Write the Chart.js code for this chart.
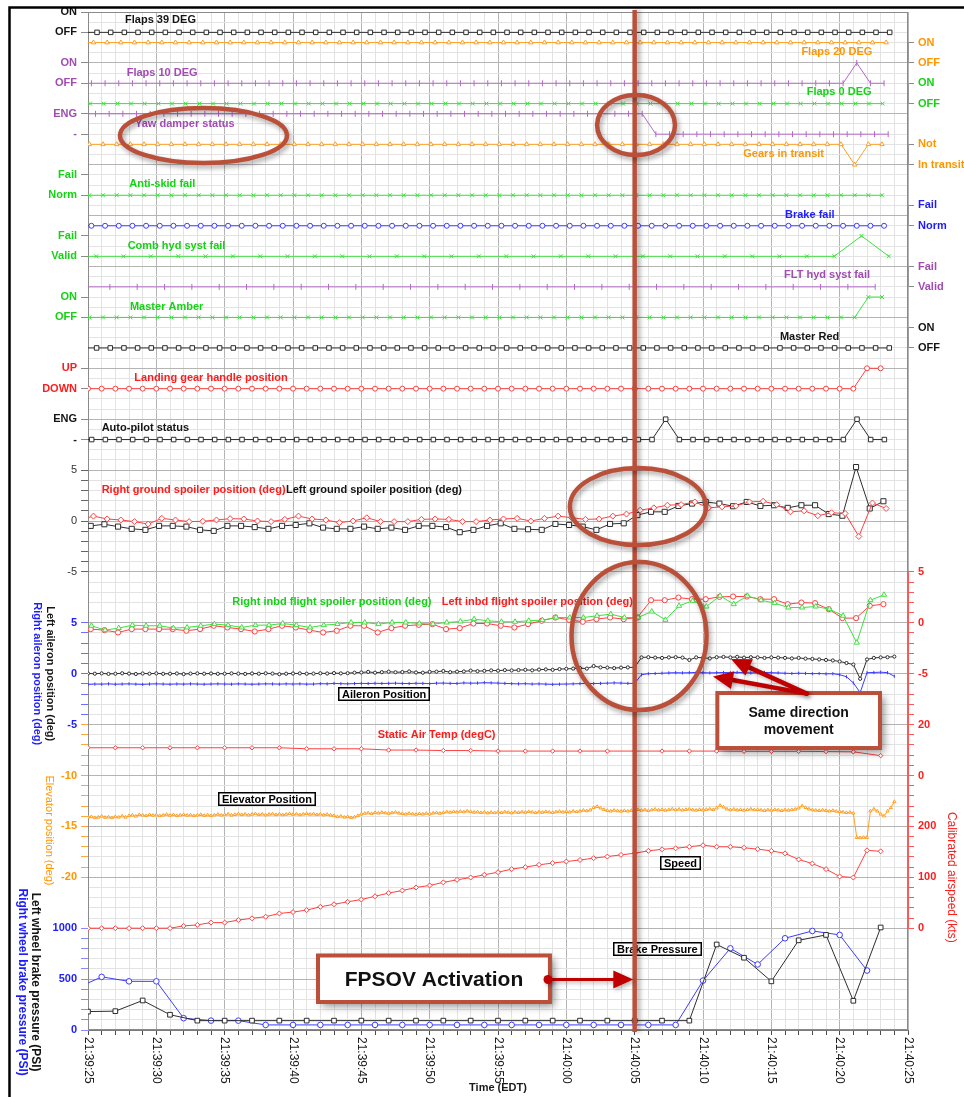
<!DOCTYPE html>
<html>
<head>
<meta charset="utf-8">
<title>Flight data recorder – FPSOV activation</title>
<script src="https://cdn.jsdelivr.net/npm/chart.js@4.4.1/dist/chart.umd.min.js"></script>
<style>
  html, body { margin: 0; padding: 0; background: #fff; }
  #wrap { width: 964px; height: 1097px; position: relative; overflow: hidden; }
  canvas { display: block; }
</style>
</head>
<body>
<div id="wrap"><canvas id="chart" width="964" height="1097"></canvas></div>
<script>
// ---------------------------------------------------------------------------
// Time axis: seconds after 21:39:25 EDT
// ---------------------------------------------------------------------------
const TIME_TICKS  = [0, 5, 10, 15, 20, 25, 30, 35, 40, 45, 50, 55, 60];
const TIME_LABELS = ['21:39:25', '21:39:30', '21:39:35', '21:39:40', '21:39:45', '21:39:50',
                     '21:39:55', '21:40:00', '21:40:05', '21:40:10', '21:40:15', '21:40:20', '21:40:25'];
const FPSOV_TIME = 40; // 21:40:05

// Discrete parameter state names (top state, bottom state)
const LBL_ON_OFF      = ['ON', 'OFF'];
const LBL_ENG         = ['ENG', '-'];
const LBL_FAIL_NORM   = ['Fail', 'Norm'];
const LBL_FAIL_VALID  = ['Fail', 'Valid'];
const LBL_UP_DOWN     = ['UP', 'DOWN'];
const LBL_NOT_TRANSIT = ['Not', 'In transit'];

// Analog axis labelled ticks
const GSP_TICKS  = [5, 0, -5];
const AIL_TICKS  = [5, 0, -5];
const ELEV_TICKS = [-10, -15, -20];
const BRK_TICKS  = [1000, 500, 0];
const FSP_TICKS  = [5, 0, -5];
const SAT_TICKS  = [20, 0];
const CAS_TICKS  = [200, 100, 0];

// ---------------------------------------------------------------------------
// Discrete parameters (1 = upper state, 0 = lower state), 1 Hz unless noted
// ---------------------------------------------------------------------------
const FLAPS39 = [
  0,0,0,0,0,0,0,0,0,0, 0,0,0,0,0,0,0,0,0,0, 0,0,0,0,0,0,0,0,0,0,
  0,0,0,0,0,0,0,0,0,0, 0,0,0,0,0,0,0,0,0,0, 0,0,0,0,0,0,0,0,0,0];
const FLAPS20 = [
  1,1,1,1,1,1,1,1,1,1, 1,1,1,1,1,1,1,1,1,1, 1,1,1,1,1,1,1,1,1,1,
  1,1,1,1,1,1,1,1,1,1, 1,1,1,1,1,1,1,1,1,1, 1,1,1,1,1,1,1,1,1,1];
const FLAPS10 = [
  0,0,0,0,0,0,0,0,0,0, 0,0,0,0,0,0,0,0,0,0, 0,0,0,0,0,0,0,0,0,0,
  0,0,0,0,0,0,0,0,0,0, 0,0,0,0,0,0,0,0,0,0, 0,0,0,0,0,0,0,1,0,0];
const FLAPS0 = [
  0,0,0,0,0,0,0,0,0,0, 0,0,0,0,0,0,0,0,0,0, 0,0,0,0,0,0,0,0,0,0,
  0,0,0,0,0,0,0,0,0,0, 0,0,0,0,0,0,0,0,0,0, 0,0,0,0,0,0,0,0,0,0];
const YAW_DAMPER = [
  1,1,1,1,1,1,1,1,1,1, 1,1,1,1,1,1,1,1,1,1, 1,1,1,1,1,1,1,1,1,1,
  1,1,1,1,1,1,1,1,1,1, 1,1,0,0,0,0,0,0,0,0, 0,0,0,0,0,0,0,0,0,0];
const GEARS_TRANSIT = [
  1,1,1,1,1,1,1,1,1,1, 1,1,1,1,1,1,1,1,1,1, 1,1,1,1,1,1,1,1,1,1,
  1,1,1,1,1,1,1,1,1,1, 1,1,1,1,1,1,1,1,1,1, 1,1,1,1,1,1,1,0,1,1];
const ANTI_SKID = [
  0,0,0,0,0,0,0,0,0,0, 0,0,0,0,0,0,0,0,0,0, 0,0,0,0,0,0,0,0,0,0,
  0,0,0,0,0,0,0,0,0,0, 0,0,0,0,0,0,0,0,0,0, 0,0,0,0,0,0,0,0,0,0];
const BRAKE_FAIL = [
  0,0,0,0,0,0,0,0,0,0, 0,0,0,0,0,0,0,0,0,0, 0,0,0,0,0,0,0,0,0,0,
  0,0,0,0,0,0,0,0,0,0, 0,0,0,0,0,0,0,0,0,0, 0,0,0,0,0,0,0,0,0,0];
const COMB_HYD = [            // 0.5 Hz
  0,0,0,0,0,0,0,0,0,0, 0,0,0,0,0,0,0,0,0,0, 0,0,0,0,0,0,0,0,0,1, 0];
const FLT_HYD = [             // 0.5 Hz
  0,0,0,0,0,0,0,0,0,0, 0,0,0,0,0,0,0,0,0,0, 0,0,0,0,0,0,0,0,0,0];
const MASTER_AMBER = [
  0,0,0,0,0,0,0,0,0,0, 0,0,0,0,0,0,0,0,0,0, 0,0,0,0,0,0,0,0,0,0,
  0,0,0,0,0,0,0,0,0,0, 0,0,0,0,0,0,0,0,0,0, 0,0,0,0,0,0,0,0,1,1];
const MASTER_RED = [
  0,0,0,0,0,0,0,0,0,0, 0,0,0,0,0,0,0,0,0,0, 0,0,0,0,0,0,0,0,0,0,
  0,0,0,0,0,0,0,0,0,0, 0,0,0,0,0,0,0,0,0,0, 0,0,0,0,0,0,0,0,0,0];
const GEAR_HANDLE = [
  0,0,0,0,0,0,0,0,0,0, 0,0,0,0,0,0,0,0,0,0, 0,0,0,0,0,0,0,0,0,0,
  0,0,0,0,0,0,0,0,0,0, 0,0,0,0,0,0,0,0,0,0, 0,0,0,0,0,0,0,0,1,1];
const AUTOPILOT = [
  0,0,0,0,0,0,0,0,0,0, 0,0,0,0,0,0,0,0,0,0, 0,0,0,0,0,0,0,0,0,0,
  0,0,0,0,0,0,0,0,0,0, 0,0,0,1,0,0,0,0,0,0, 0,0,0,0,0,0,0,1,0,0];

// ---------------------------------------------------------------------------
// Analog parameters
// ---------------------------------------------------------------------------
const GSP_RIGHT = [   // right ground spoiler (deg), 1 Hz
  0.1, 0.48, 0.2, 0.1, -0.06, -0.3, 0.26, 0.1, -0.06, -0.03,
  0.1, 0.23, 0.2, 0.0, -0.06, 0.16, 0.48, 0.2, 0.1, -0.16,
  0.0, 0.32, -0.06, -0.06, -0.06, 0.16, 0.2, 0.16, -0.06, -0.06,
  0.1, 0.2, 0.26, 0.0, 0.26, 0.48, 0.32, 0.16, 0.2, 0.48,
  0.68, 1.06, 1.29, 1.55, 1.61, 1.87, 1.29, 1.39, 1.48, 1.87,
  1.94, 1.61, 0.9, 1.0, 0.52, 0.81, 0.74, -1.52, 1.77, 1.23];
const GSP_LEFT = [    // left ground spoiler (deg), 1 Hz
  -0.45, -0.48, -0.32, -0.55, -0.77, -0.87, -0.48, -0.48, -0.55, -0.87,
  -0.97, -0.48, -0.48, -0.6, -0.77, -0.48, -0.39, -0.23, -0.65, -0.77,
  -0.77, -0.55, -0.77, -0.65, -0.87, -0.48, -0.48, -0.6, -1.1, -0.87,
  -0.48, -0.23, -0.77, -0.81, -0.87, -0.29, -0.39, -0.55, -0.87, -0.29,
  -0.23, 0.58, 0.9, 0.9, 1.48, 1.71, 1.87, 1.71, 1.45, 1.87,
  1.48, 1.55, 1.29, 1.55, 1.55, 0.68, 0.52, 5.3, 1.23, 1.94];
const FSP_RIGHT = [   // right inboard flight spoiler (deg), 1 Hz
  -0.3, -0.29, -0.72, -0.52, -0.23, -0.29, -0.29, -0.52, -0.46, -0.29,
  -0.13, -0.23, -0.46, -0.23, -0.23, -0.07, -0.23, -0.46, -0.23, -0.13,
  0.03, 0.03, -0.13, 0.03, 0.03, -0.07, -0.13, 0.03, 0.13, 0.36,
  0.2, 0.1, 0.1, 0.2, 0.26, 0.52, 0.52, 0.52, 0.69, 0.85,
  0.52, 0.52, 1.11, 0.29, 1.67, 2.16, 1.6, 2.65, 1.83, 2.65,
  2.22, 1.93, 1.5, 1.5, 1.6, 1.34, 0.69, -1.95, 2.22, 2.75];
const FSP_LEFT = [    // left inboard flight spoiler (deg), 1 Hz
  -0.6, -0.62, -0.72, -0.95, -0.62, -0.62, -0.62, -0.62, -0.78, -0.62,
  -0.29, -0.46, -0.62, -0.85, -0.62, -0.29, -0.46, -0.72, -0.95, -0.78,
  -0.29, -0.29, -0.95, -0.52, -0.29, -0.2, -0.13, -0.62, -0.52, -0.07,
  -0.07, -0.29, -0.46, -0.13, 0.2, 0.52, 0.29, 0.1, 0.36, 0.52,
  0.36, 0.52, 2.22, 2.22, 2.48, 2.32, 2.32, 2.55, 2.58, 2.58,
  2.32, 2.32, 1.83, 1.99, 1.93, 1.34, 0.46, 0.46, 1.67, 1.83];
const AIL_LEFT = [    // left aileron (deg), 2 Hz
  0.02, 0.0, 0.03, -0.02, 0.0, 0.04, 0.01, -0.03, 0.02, 0.0,
  0.03, -0.01, 0.0, 0.02, -0.04, 0.01, 0.03, 0.0, 0.02, -0.01,
  0.0, 0.03, 0.01, -0.02, 0.02, 0.0, 0.04, 0.01, -0.05, 0.0,
  0.02, 0.03, 0.0, 0.01, 0.04, 0.02, 0.06, 0.03, 0.05, 0.1,
  0.12, 0.18, 0.1, 0.15, 0.2, 0.14, 0.16, 0.22, 0.12, 0.1,
  0.18, 0.2, 0.26, 0.15, 0.2, 0.22, 0.3, 0.25, 0.28, 0.32,
  0.3, 0.35, 0.32, 0.36, 0.38, 0.33, 0.4, 0.42, 0.38, 0.45,
  0.48, 0.5, 0.55, 0.5, 0.75, 0.62, 0.6, 0.55, 0.6, 0.62,
  0.62, 1.6, 1.62, 1.58, 1.55, 1.6, 1.62, 1.58, 1.35, 1.6,
  1.56, 1.5, 1.62, 1.65, 1.6, 1.66, 1.58, 1.62, 1.6, 1.55,
  1.6, 1.58, 1.55, 1.5, 1.55, 1.48, 1.45, 1.4, 1.35, 1.3,
  1.2, 1.05, 0.9, -0.5, 1.4, 1.55, 1.6, 1.62, 1.68];
const AIL_RIGHT = [   // right aileron (deg), 2 Hz
  -1.05, -1.02, -1.03, -1.0, -1.04, -1.02, -1.0, -1.03, -1.05, -1.02,
  -1.0, -1.02, -1.04, -1.01, -1.03, -1.0, -1.02, -1.04, -1.02, -1.0,
  -1.02, -1.03, -1.0, -1.02, -1.04, -1.02, -1.0, -1.01, -1.03, -1.0,
  -1.02, -1.0, -1.03, -1.02, -0.98, -1.0, -0.95, -0.98, -1.0, -0.97,
  -0.95, -0.97, -0.94, -0.96, -0.95, -0.93, -0.96, -0.97, -0.94, -0.95,
  -0.98, -0.93, -0.92, -0.95, -0.96, -0.9, -0.93, -0.92, -0.88, -0.9,
  -0.92, -0.95, -0.98, -1.0, -0.98, -1.02, -1.0, -1.03, -1.05, -1.03,
  -1.02, -1.0, -0.98, -0.95, -0.97, -0.95, -0.93, -0.9, -0.92, -0.95,
  -0.95, -0.1, 0.0, 0.02, 0.05, 0.08, 0.1, 0.08, 0.1, 0.12,
  0.1, 0.08, 0.1, 0.12, 0.1, 0.13, 0.1, 0.08, 0.1, 0.12,
  0.1, 0.08, 0.05, 0.02, 0.05, 0.03, 0.0, 0.02, -0.02, 0.0,
  -0.1, -0.3, -0.9, -1.85, 0.1, 0.12, 0.15, 0.1, -0.25];
const ELEVATOR = [    // elevator position (deg), 4 Hz
  -14.1, -14.05, -14.15, -14.1,   -14.0, -14.12, -14.08, -14.15,  -14.05, -14.1, -13.98, -14.1,
  -13.95, -13.9, -14.0, -13.85,   -13.9, -13.95, -13.85, -13.92,  -13.88, -13.95, -13.9, -13.82,
  -13.92, -13.86, -13.95, -13.9,  -13.85, -13.92, -13.88, -13.95, -13.9, -13.84, -13.93, -13.88,
  -13.95, -13.88, -13.82, -13.9,  -13.86, -13.8, -13.9, -13.84,   -13.78, -13.85, -13.8, -13.88,
  -13.82, -13.76, -13.85, -13.8,  -13.88, -13.82, -13.78, -13.85, -13.8, -13.86, -13.82, -13.75,
  -13.83, -13.78, -13.86, -13.8,  -13.75, -13.82, -13.78, -13.85, -13.8, -13.88, -13.83, -13.9,
  -13.95, -14.05, -14.0, -14.1,   -14.05, -14.15, -14.08, -13.95, -13.8, -13.72, -13.68, -13.75,
  -13.65, -13.7, -13.62, -13.68,  -13.72, -13.66, -13.6, -13.7,    -13.75, -13.8, -13.72, -13.78,
  -13.82, -13.75, -13.8, -13.72,  -13.78, -13.7, -13.66, -13.72,   -13.65, -13.58, -13.62, -13.55,
  -13.6, -13.52, -13.58, -13.5,   -13.55, -13.62, -13.58, -13.65,  -13.6, -13.68, -13.62, -13.66,
  -13.6, -13.65, -13.58, -13.62,  -13.68, -13.6, -13.64, -13.58,   -13.62, -13.55, -13.6, -13.66,
  -13.58, -13.62, -13.55, -13.6,  -13.64, -13.58, -13.52, -13.6,   -13.55, -13.6, -13.5, -13.56,
  -13.5, -13.42, -13.48, -13.4,   -13.15, -13.05, -13.2, -13.35,   -13.45, -13.5, -13.42, -13.48,
  -13.52, -13.45, -13.5, -13.44,  -13.4, -13.35, -13.42, -13.38,   -13.45, -13.38, -13.32, -13.4,
  -13.35, -13.42, -13.36, -13.3,  -13.38, -13.32, -13.4, -13.35,   -13.3, -13.38, -13.42, -13.35,
  -13.4, -13.34, -13.3, -13.36,   -13.2, -12.95, -13.1, -13.3,     -13.38, -13.32, -13.4, -13.35,
  -13.42, -13.36, -13.3, -13.38,  -13.35, -13.4, -13.44, -13.38,   -13.42, -13.36, -13.4, -13.45,
  -13.38, -13.42, -13.36, -13.32, -13.2, -12.98, -13.15, -13.3,    -13.38, -13.42, -13.45, -13.4,
  -13.45, -13.5, -13.44, -13.52,  -13.55, -13.6, -13.65, -13.62,   -13.7, -16.1, -16.12, -16.08,
  -16.1, -13.48, -13.3, -13.5,    -13.8, -13.98, -13.5, -13.16,    -12.57];
const SAT = [         // static air temperature (degC), 0.5 Hz
  10.9, 10.9, 10.9, 10.9, 10.9, 10.9, 10.9, 10.9, 10.5, 10.5,
  10.5, 10.0, 10.0, 9.8, 9.8, 9.6, 9.6, 9.6, 9.6, 9.6,
  9.6, 9.6, 9.6, 9.6, 9.5, 9.5, 9.5, 9.4, 9.3, 7.8];
const CAS = [         // calibrated airspeed (kts), 1 Hz
  0, 0, 0, 0, 0, 0, 0, 4.5, 6.5, 11,
  11, 16, 19.4, 22.6, 29, 31.7, 35.6, 42, 47, 51.8,
  56.3, 62.7, 69, 74, 80, 84, 90, 95, 99.6, 105,
  110, 116, 120, 124.5, 128, 131, 134, 137.6, 140.8, 144,
  147.3, 152, 155, 157, 160, 163, 160, 160, 158, 155.3,
  152, 147, 135, 127, 116, 101.6, 99.6, 153, 151];
const BRAKE_LEFT = [  // left wheel brake pressure (PSI), 0.5 Hz
  181, 185, 290, 150, 92, 92, 92, 92, 92, 92,
  92, 92, 92, 92, 92, 92, 92, 92, 92, 92,
  92, 92, 92, 840, 710, 478, 881, 934, 287, 1007];
const BRAKE_RIGHT = [ // right wheel brake pressure (PSI), 0.5 Hz
  402, 522, 478, 478, 116, 92, 92, 50, 50, 50,
  50, 50, 50, 50, 50, 50, 50, 50, 50, 50,
  50, 50, 50, 485, 802, 644, 901, 973, 934, 584];

// ---------------------------------------------------------------------------
// Styling
// ---------------------------------------------------------------------------
const FONT = "'Liberation Sans', Arial, Helvetica, sans-serif";
const TXT = { black: '#141414', orange: '#ff9600', purple: '#a04cb2', green: '#14d214', blue: '#1c1cff', red: '#ff1c1c' };
const LN  = { black: '#2e2e2e', orange: '#ffa024', purple: '#b36ac6', green: '#40df40', blue: '#3c3cff', red: '#ff4040' };
const GRID_MAJOR = '#b4b4b4';
const GRID_MINOR = '#e3e3e3';
const LEFT_W = 88, RIGHT_W = 56;
const ANNOT = 'rgb(186,80,58)';
const ARROW = '#c00000';

// Turn a regularly sampled record into {x: seconds, y: value} points
function samples(t0, dt, vals) {
  return vals.map((v, i) => ({ x: +(t0 + i * dt).toFixed(3), y: v }));
}

// ---------------------------------------------------------------------------
// Vertical layout: every parameter gets its own stacked band (weights in grid rows)
// ---------------------------------------------------------------------------
const LEFT_BANDS = [
  { id: 'yF39',   w: 2, states: LBL_ON_OFF,     color: TXT.black },
  { w: 3 },
  { id: 'yF10',   w: 2, states: LBL_ON_OFF,     color: TXT.purple },
  { w: 3 },
  { id: 'yYaw',   w: 2, states: LBL_ENG,        color: TXT.purple },
  { w: 4 },
  { id: 'ySkid',  w: 2, states: LBL_FAIL_NORM,  color: TXT.green },
  { w: 4 },
  { id: 'yComb',  w: 2, states: LBL_FAIL_VALID, color: TXT.green },
  { w: 4 },
  { id: 'yAmber', w: 2, states: LBL_ON_OFF,     color: TXT.green },
  { w: 5 },
  { id: 'yGear',  w: 2, states: LBL_UP_DOWN,    color: TXT.red },
  { w: 3 },
  { id: 'yAP',    w: 2, states: LBL_ENG,        color: TXT.black },
  { w: 3 },
  { id: 'yGsp',   w: 10, min: -5, max: 5, step: 1, ticks: GSP_TICKS, color: '#333', axis: '#666', bold: false },
  { w: 5 },
  { id: 'yAil',   w: 10, min: -5, max: 5, step: 1, ticks: AIL_TICKS, color: TXT.blue, axis: '#6f6fff', bold: true },
  { id: 'yElev',  w: 15, min: -20, max: -5, step: 1, ticks: ELEV_TICKS, color: TXT.orange, axis: '#ffa63a', bold: true },
  { w: 5 },
  { id: 'yBrk',   w: 10, min: 0, max: 1000, step: 100, ticks: BRK_TICKS, color: TXT.blue, axis: '#8a8aff', bold: true }
];
const RIGHT_BANDS = [
  { w: 3 },
  { id: 'yF20',     w: 2, states: LBL_ON_OFF,      color: TXT.orange },
  { w: 2 },
  { id: 'yF0',      w: 2, states: LBL_ON_OFF,      color: TXT.green },
  { w: 4 },
  { id: 'yTransit', w: 2, states: LBL_NOT_TRANSIT, color: TXT.orange },
  { w: 4 },
  { id: 'yBrkFail', w: 2, states: LBL_FAIL_NORM,   color: TXT.blue },
  { w: 4 },
  { id: 'yFlt',     w: 2, states: LBL_FAIL_VALID,  color: TXT.purple },
  { w: 4 },
  { id: 'yRed',     w: 2, states: LBL_ON_OFF,      color: TXT.black },
  { w: 22 },
  { id: 'yFsp',  w: 15, min: -10, max: 5, step: 1, ticks: FSP_TICKS, color: TXT.red, axis: '#ff5a5a', bold: true },
  { id: 'yTemp', w: 10, min: -20, max: 20, step: 4, ticks: SAT_TICKS, color: TXT.red, axis: '#ff5a5a', bold: true },
  { id: 'ySpd',  w: 10, min: 0, max: 200, step: 20, ticks: CAS_TICKS, color: TXT.red, axis: '#ff5a5a', bold: true,
    title: 'Calibrated airspeed (kts)' },
  { w: 10 }
];

function bandScale(band, pos, order) {
  const width = pos === 'left' ? LEFT_W : RIGHT_W;
  const base = {
    type: 'linear', position: pos, stack: 'bands', stackWeight: band.w, weight: order,
    afterFit: s => { s.width = width; }
  };
  if (!band.id) {
    return Object.assign(base, {
      min: 0, max: 1,
      ticks: { display: false }, grid: { display: false, drawTicks: false }, border: { display: false }
    });
  }
  if (band.states) {
    return Object.assign(base, {
      min: 0, max: 1,
      ticks: {
        stepSize: 1, autoSkip: false, maxTicksLimit: 100, padding: 4, color: band.color,
        font: { family: FONT, size: 11, weight: 'bold' },
        callback: v => v === 1 ? band.states[0] : (v === 0 ? band.states[1] : null)
      },
      grid: { display: true, drawOnChartArea: false, drawTicks: true, tickLength: pos === 'left' ? 7 : 6, tickColor: '#8a8a8a' },
      border: { display: true, color: '#9a9a9a' }
    });
  }
  const opts = Object.assign(base, {
    min: band.min, max: band.max,
    ticks: {
      stepSize: band.step, autoSkip: false, maxTicksLimit: 200, padding: 4, color: band.color,
      font: { family: FONT, size: 11, weight: band.bold ? 'bold' : 'normal' },
      callback: v => band.ticks.includes(v) ? String(v) : ''
    },
    grid: { display: true, drawOnChartArea: false, drawTicks: true, tickLength: pos === 'left' ? 7 : 6, tickColor: band.axis },
    border: { display: true, color: band.axis }
  });
  if (band.title) {
    opts.title = { display: true, text: band.title, color: TXT.red, font: { family: FONT, size: 12 }, padding: { top: 5, bottom: 0 } };
  }
  return opts;
}

const scales = {
  x: {
    type: 'linear', position: 'bottom', min: 0, max: 60,
    ticks: { display: false, stepSize: 1, autoSkip: false, maxTicksLimit: 100 },
    grid: {
      color: c => (c.tick && c.tick.value % 5 === 0) ? GRID_MAJOR : GRID_MINOR,
      lineWidth: 1, drawTicks: true, tickLength: 5, tickColor: '#4a4a4a'
    },
    border: { display: true, color: '#7a7a7a' },
    title: { display: true, text: 'Time (EDT)', color: '#1a1a1a', font: { family: FONT, size: 11, weight: 'bold' }, padding: { top: 0, bottom: 2 } },
    afterFit: s => { s.height = 67; }
  },
  // background horizontal grid, rows counted from the top of the plot
  g: {
    type: 'linear', position: 'left', reverse: true, min: 0, max: 100, weight: -1,
    ticks: { display: false, stepSize: 1, autoSkip: false, maxTicksLimit: 200 },
    grid: { color: c => (c.tick && c.tick.value % 5 === 0) ? GRID_MAJOR : GRID_MINOR, lineWidth: 1, drawTicks: false },
    border: { display: false },
    afterFit: s => { s.width = 0; }
  }
};
LEFT_BANDS.forEach((b, i) => { scales[b.id || ('lsp' + i)] = bandScale(b, 'left', 1000 - i); });
RIGHT_BANDS.forEach((b, i) => { scales[b.id || ('rsp' + i)] = bandScale(b, 'right', i + 1); });

// ---------------------------------------------------------------------------
// Datasets
// ---------------------------------------------------------------------------
function trace(label, axis, data, color, style, radius, extra) {
  return Object.assign({
    label, yAxisID: axis, data,
    borderColor: color, borderWidth: 1, tension: 0, fill: false,
    pointStyle: style, pointRadius: radius, pointHoverRadius: radius,
    pointBorderColor: color, pointBackgroundColor: '#fff', pointBorderWidth: 1,
    clip: { left: 0, right: 0, top: 30, bottom: 30 }
  }, extra || {});
}
const VBAR = { pointRotation: 90 };

const datasets = [
  trace('Flaps 39 DEG', 'yF39', samples(-0.34, 1, FLAPS39), LN.black, 'rect', 3.2),
  trace('Flaps 20 DEG', 'yF20', samples(-0.6, 1, FLAPS20), LN.orange, 'triangle', 2.6),
  trace('Flaps 10 DEG', 'yF10', samples(-0.75, 1, FLAPS10), LN.purple, 'line', 3, VBAR),
  trace('Flaps 0 DEG', 'yF0', samples(-0.85, 1, FLAPS0), LN.green, 'crossRot', 2.8),
  trace('Yaw damper status', 'yYaw', samples(-0.45, 1, YAW_DAMPER), LN.purple, 'line', 3, VBAR),
  trace('Gears in transit', 'yTransit', samples(-0.9, 1, GEARS_TRANSIT), LN.orange, 'triangle', 2.6),
  trace('Anti-skid fail', 'ySkid', samples(-0.9, 1, ANTI_SKID), LN.green, 'crossRot', 2.8),
  trace('Brake fail', 'yBrkFail', samples(-0.75, 1, BRAKE_FAIL), LN.blue, 'circle', 2.5),
  trace('Comb hyd syst fail', 'yComb', samples(-1.4, 2, COMB_HYD), LN.green, 'crossRot', 2.8),
  trace('FLT hyd syst fail', 'yFlt', samples(-0.4, 2, FLT_HYD), LN.purple, 'line', 3, VBAR),
  trace('Master Amber', 'yAmber', samples(-0.9, 1, MASTER_AMBER), LN.green, 'crossRot', 2.8),
  trace('Master Red', 'yRed', samples(-0.37, 1, MASTER_RED), LN.black, 'rect', 3.2),
  trace('Landing gear handle position', 'yGear', samples(-1, 1, GEAR_HANDLE), LN.red, 'circle', 2.5),
  trace('Auto-pilot status', 'yAP', samples(-0.73, 1, AUTOPILOT), LN.black, 'rect', 3.2),

  trace('Right ground spoiler position (deg)', 'yGsp', samples(-0.6, 1, GSP_RIGHT), LN.red, 'rectRot', 3),
  trace('Left ground spoiler position (deg)', 'yGsp', samples(-0.8, 1, GSP_LEFT), LN.black, 'rect', 3.6),
  trace('Right inbd flight spoiler position (deg)', 'yFsp', samples(-0.75, 1, FSP_RIGHT), LN.green, 'triangle', 3),
  trace('Left inbd flight spoiler position (deg)', 'yFsp', samples(-0.8, 1, FSP_LEFT), LN.red, 'circle', 2.6),
  trace('Left aileron position (deg)', 'yAil', samples(0, 0.5, AIL_LEFT), LN.black, 'circle', 1.6),
  trace('Right aileron position (deg)', 'yAil', samples(0, 0.5, AIL_RIGHT), LN.blue, 'line', 1.6, VBAR),
  trace('Static Air Temp (degC)', 'yTemp', samples(0, 2, SAT), LN.red, 'rectRot', 2.2),
  trace('Elevator position (deg)', 'yElev', samples(0, 0.25, ELEVATOR), LN.orange, 'triangle', 1.8),
  trace('Calibrated airspeed (kts)', 'ySpd', samples(0, 1, CAS), LN.red, 'rectRot', 2.5),
  trace('Left wheel brake pressure (PSI)', 'yBrk', samples(0, 2, BRAKE_LEFT), LN.black, 'rect', 3.3),
  trace('Right wheel brake pressure (PSI)', 'yBrk', samples(-1, 2, BRAKE_RIGHT), LN.blue, 'circle', 2.8)
];

// ---------------------------------------------------------------------------
// Text and callouts placed in plot coordinates (t = seconds, row = grid row)
// ---------------------------------------------------------------------------
const SERIES_TEXT = [
  { text: 'Flaps 39 DEG', color: TXT.black, t: 2.71, row: 0.83 },
  { text: 'Flaps 20 DEG', color: TXT.orange, t: 52.2, row: 3.9 },
  { text: 'Flaps 10 DEG', color: TXT.purple, t: 2.83, row: 5.94 },
  { text: 'Flaps 0 DEG', color: TXT.green, t: 52.59, row: 7.86 },
  { text: 'Yaw damper status', color: TXT.purple, t: 3.44, row: 11.0 },
  { text: 'Gears in transit', color: TXT.orange, t: 47.95, row: 13.95 },
  { text: 'Anti-skid fail', color: TXT.green, t: 3.02, row: 16.9 },
  { text: 'Brake fail', color: TXT.blue, t: 51.0, row: 19.9 },
  { text: 'Comb hyd syst fail', color: TXT.green, t: 2.9, row: 22.94 },
  { text: 'FLT hyd syst fail', color: TXT.purple, t: 50.93, row: 25.8 },
  { text: 'Master Amber', color: TXT.green, t: 3.07, row: 28.93 },
  { text: 'Master Red', color: TXT.black, t: 50.63, row: 31.88 },
  { text: 'Landing gear handle position', color: TXT.red, t: 3.39, row: 35.95 },
  { text: 'Auto-pilot status', color: TXT.black, t: 1.0, row: 40.86 },
  { text: 'Right ground spoiler position (deg)', color: TXT.red, t: 1.0, row: 47.0 },
  { text: 'Left ground spoiler position (deg)', color: TXT.black, t: 14.49, row: 47.0 },
  { text: 'Right inbd flight spoiler position (deg)', color: TXT.green, t: 10.56, row: 58.0 },
  { text: 'Left inbd flight spoiler position (deg)', color: TXT.red, t: 25.88, row: 58.0 },
  { text: 'Static Air Temp (degC)', color: TXT.red, t: 21.2, row: 70.97 }
];
const BOXED_TEXT = [
  { text: 'Aileron Position', t: 18.27, row: 67.0 },
  { text: 'Elevator Position', t: 9.53, row: 77.3 },
  { text: 'Speed', t: 41.85, row: 83.56 },
  { text: 'Brake Pressure', t: 38.44, row: 92.07 }
];
const LEFT_TITLES = [
  { scale: 'yAil',  at: 0,     x: 50,   text: 'Left aileron position (deg)',     color: TXT.black,  font: 'bold 11px' },
  { scale: 'yAil',  at: 0,     x: 37.5, text: 'Right aileron position (deg)',    color: TXT.blue,   font: 'bold 11px' },
  { scale: 'yElev', at: -15.4, x: 49,   text: 'Elevator position (deg)',         color: TXT.orange, font: '11px' },
  { scale: 'yBrk',  at: 470,   x: 35,   text: 'Left wheel brake pressure (PSI)', color: TXT.black,  font: 'bold 12px' },
  { scale: 'yBrk',  at: 470,   x: 22,   text: 'Right wheel brake pressure (PSI)', color: TXT.blue,  font: 'bold 12px' }
];
const ELLIPSES = [
  { t: 8.45,  row: 12.13, dt: 6.11, drow: 2.70 },
  { t: 40.1,  row: 11.1,  dt: 2.85, drow: 2.95 },
  { t: 40.24, row: 48.58, dt: 4.98, drow: 3.78 },
  { t: 40.32, row: 61.3,  dt: 4.94, drow: 7.27 }
];
const CALLOUTS = [
  { t0: 46.05, t1: 57.95, r0: 66.9, r1: 72.3, lines: ['Same direction', 'movement'], size: 14, lh: 17 },
  { t0: 16.83, t1: 33.8, r0: 92.68, r1: 97.25, lines: ['FPSOV Activation'], size: 21, lh: 22 }
];
const ARROWS = [
  { from: [52.59, 66.96], to: [47.05, 63.56], w: 4.5, head: 20, half: 9, dot: false },
  { from: [52.59, 66.96], to: [45.73, 65.27], w: 4.5, head: 20, half: 9, dot: false },
  { from: [33.66, 95.04], to: [39.9, 95.04],  w: 3,   head: 20, half: 9, dot: true }
];

function drawArrow(ctx, x1, y1, x2, y2, a) {
  const ang = Math.atan2(y2 - y1, x2 - x1);
  const bx = x2 - a.head * Math.cos(ang), by = y2 - a.head * Math.sin(ang);
  ctx.lineWidth = a.w;
  ctx.lineCap = 'round';
  ctx.beginPath(); ctx.moveTo(x1, y1); ctx.lineTo(bx, by); ctx.stroke();
  ctx.beginPath();
  ctx.moveTo(x2, y2);
  ctx.lineTo(bx + a.half * Math.sin(ang), by - a.half * Math.cos(ang));
  ctx.lineTo(bx - a.half * Math.sin(ang), by + a.half * Math.cos(ang));
  ctx.closePath(); ctx.fill();
  if (a.dot) { ctx.beginPath(); ctx.arc(x1, y1, 4.5, 0, Math.PI * 2); ctx.fill(); }
}

const overlay = {
  id: 'overlay',
  beforeDatasetsDraw(chart) {
    const { ctx, chartArea: a } = chart;
    ctx.save();
    ctx.strokeStyle = '#8a8a8a';
    ctx.lineWidth = 1;
    ctx.strokeRect(Math.round(a.left) + 0.5, Math.round(a.top) + 0.5, Math.round(a.width) - 1, Math.round(a.height) - 1);
    ctx.restore();
  },
  afterDatasetsDraw(chart) {
    const { ctx } = chart;
    const X = v => chart.scales.x.getPixelForValue(v);
    const Y = v => chart.scales.g.getPixelForValue(v);
    ctx.save();
    ctx.textBaseline = 'middle';
    ctx.textAlign = 'left';
    ctx.font = `bold 11px ${FONT}`;
    SERIES_TEXT.forEach(l => { ctx.fillStyle = l.color; ctx.fillText(l.text, X(l.t), Y(l.row)); });
    BOXED_TEXT.forEach(l => {
      const x0 = Math.round(X(l.t)), yc = Math.round(Y(l.row));
      const w = Math.round(ctx.measureText(l.text).width + 8), h = 14;
      ctx.fillStyle = '#fff';
      ctx.fillRect(x0, yc - h / 2, w, h);
      ctx.strokeStyle = '#000'; ctx.lineWidth = 1.5;
      ctx.strokeRect(x0 + 0.75, yc - h / 2 + 0.75, w - 1.5, h - 1.5);
      ctx.fillStyle = '#000';
      ctx.fillText(l.text, x0 + 4, yc + 0.5);
    });
    ctx.restore();
  },
  afterDraw(chart) {
    const { ctx, chartArea: a } = chart;
    const X = v => chart.scales.x.getPixelForValue(v);
    const Y = v => chart.scales.g.getPixelForValue(v);
    ctx.save();

    // time labels, rotated to read downwards
    ctx.fillStyle = '#1a1a1a';
    ctx.font = `12px ${FONT}`;
    ctx.textAlign = 'left';
    ctx.textBaseline = 'middle';
    TIME_TICKS.forEach((t, i) => {
      ctx.save();
      ctx.translate(X(t), a.bottom + 7);
      ctx.rotate(Math.PI / 2);
      ctx.fillText(TIME_LABELS[i], 0, 0);
      ctx.restore();
    });

    // left axis titles, rotated to read downwards
    ctx.textAlign = 'center';
    LEFT_TITLES.forEach(tl => {
      ctx.save();
      ctx.translate(tl.x, chart.scales[tl.scale].getPixelForValue(tl.at));
      ctx.rotate(Math.PI / 2);
      ctx.font = `${tl.font} ${FONT}`;
      ctx.fillStyle = tl.color;
      ctx.fillText(tl.text, 0, 0);
      ctx.restore();
    });

    // FPSOV activation marker
    const fx = X(FPSOV_TIME);
    ctx.save();
    ctx.shadowColor = 'rgba(0,0,0,0.35)'; ctx.shadowBlur = 5; ctx.shadowOffsetX = 3; ctx.shadowOffsetY = 0;
    ctx.strokeStyle = ANNOT; ctx.lineWidth = 4.5;
    ctx.beginPath(); ctx.moveTo(fx, Y(-0.2)); ctx.lineTo(fx, Y(100.2)); ctx.stroke();
    ctx.restore();

    // highlight ellipses
    ctx.save();
    ctx.shadowColor = 'rgba(0,0,0,0.35)'; ctx.shadowBlur = 5; ctx.shadowOffsetX = 2; ctx.shadowOffsetY = 3;
    ctx.strokeStyle = ANNOT; ctx.lineWidth = 4.5;
    ELLIPSES.forEach(e => {
      const cx = X(e.t), cy = Y(e.row);
      const rx = X(e.t + e.dt) - cx, ry = Y(e.row + e.drow) - cy;
      ctx.beginPath(); ctx.ellipse(cx, cy, rx, ry, 0, 0, Math.PI * 2); ctx.stroke();
    });
    ctx.restore();

    // callout boxes
    CALLOUTS.forEach(c => {
      const x0 = X(c.t0), x1 = X(c.t1), y0 = Y(c.r0), y1 = Y(c.r1);
      ctx.save();
      ctx.shadowColor = 'rgba(0,0,0,0.45)'; ctx.shadowBlur = 8; ctx.shadowOffsetX = 4; ctx.shadowOffsetY = 4;
      ctx.fillStyle = '#fff';
      ctx.fillRect(x0, y0, x1 - x0, y1 - y0);
      ctx.restore();
      ctx.save();
      ctx.strokeStyle = ANNOT; ctx.lineWidth = 4;
      ctx.strokeRect(x0, y0, x1 - x0, y1 - y0);
      ctx.fillStyle = '#111';
      ctx.font = `bold ${c.size}px ${FONT}`;
      ctx.textAlign = 'center'; ctx.textBaseline = 'middle';
      const cy = (y0 + y1) / 2 - (c.lines.length - 1) * c.lh / 2;
      c.lines.forEach((ln, i) => ctx.fillText(ln, (x0 + x1) / 2, cy + i * c.lh + 1));
      ctx.restore();
    });

    // arrows
    ctx.save();
    ctx.shadowColor = 'rgba(0,0,0,0.3)'; ctx.shadowBlur = 4; ctx.shadowOffsetX = 2; ctx.shadowOffsetY = 2;
    ctx.strokeStyle = ARROW; ctx.fillStyle = ARROW;
    ARROWS.forEach(ar => drawArrow(ctx, X(ar.from[0]), Y(ar.from[1]), X(ar.to[0]), Y(ar.to[1]), ar));
    ctx.restore();

    // outer frame
    ctx.strokeStyle = '#000'; ctx.lineWidth = 2.5;
    ctx.strokeRect(9.5, 7.5, 1200, 1200);
    ctx.restore();
  }
};

Chart.defaults.font.family = FONT;
Chart.defaults.font.size = 11;

const chart = new Chart(document.getElementById('chart'), {
  type: 'line',
  data: { datasets },
  options: {
    responsive: false,
    maintainAspectRatio: false,
    devicePixelRatio: 1,
    animation: false,
    events: [],
    layout: { padding: { top: 12, right: 0, bottom: 0, left: 0 } },
    plugins: { legend: { display: false }, tooltip: { enabled: false } },
    scales
  },
  plugins: [overlay]
});
</script>
</body>
</html>
